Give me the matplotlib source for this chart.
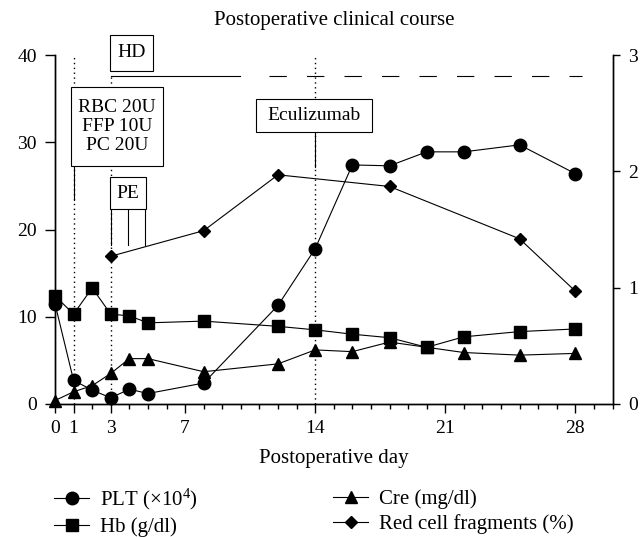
import matplotlib
matplotlib.use('Agg')
import matplotlib.pyplot as plt
from matplotlib.patches import Rectangle
from matplotlib.lines import Line2D
from matplotlib.ticker import MultipleLocator, FixedLocator

plt.rcParams['font.family'] = ['Liberation Serif', 'DejaVu Serif']
plt.rcParams['mathtext.fontset'] = 'custom'
plt.rcParams['mathtext.rm'] = 'Liberation Serif'
plt.rcParams['mathtext.it'] = 'Liberation Serif:italic'

# ---- data ----
days = [0, 1, 2, 3, 4, 5, 8, 12, 14, 16, 18, 20, 22, 25, 28]
plt_vals = [11.5, 2.7, 1.6, 0.7, 1.7, 1.2, 2.4, 11.3, 17.8, 27.4, 27.3, 28.9, 28.9, 29.7, 26.4]
hb_vals = [12.4, 10.3, 13.3, 10.3, 10.1, 9.3, 9.5, 8.9, 8.5, 8.0, 7.6, 6.5, 7.7, 8.3, 8.6]
cre_vals = [0.4, 1.4, 2.1, 3.5, 5.2, 5.2, 3.7, 4.6, 6.2, 6.0, 7.1, 6.5, 5.9, 5.6, 5.8]
rcf_days = [3, 8, 12, 18, 25, 28]
rcf_vals = [1.27, 1.49, 1.97, 1.87, 1.42, 0.97]

x_ticks = [0, 1, 3, 7, 14, 21, 28]
left_ticks = [0, 10, 20, 30, 40]
right_ticks = [0, 1, 2, 3]

labels = ['PLT (×10$^{4}$)', 'Hb (g/dl)', 'Cre (mg/dl)', 'Red cell fragments (%)']
title = 'Postoperative clinical course'
xlabel = 'Postoperative day'

FS = 14
lw = 0.8

fig = plt.figure(figsize=(6.4, 5.37), dpi=100)
W, H = 640, 537
x0, x1, ytop, ybot = 55, 612.5, 55, 404
ax = fig.add_axes([x0 / W, (H - ybot) / H, (x1 - x0) / W, (ybot - ytop) / H])
ax2 = ax.twinx()

ax.set_xlim(0, 30)
ax.set_ylim(0, 40)
ax2.set_ylim(0, 3)

# series
ax.plot(days, plt_vals, color='black', lw=lw, marker='o', ms=9, clip_on=False, zorder=5)
ax.plot(days, hb_vals, color='black', lw=lw, marker='s', ms=8.5, clip_on=False, zorder=5)
ax.plot(days, cre_vals, color='black', lw=lw, marker='^', ms=8, clip_on=False, zorder=5)
ax2.plot(rcf_days, rcf_vals, color='black', lw=lw, marker='D', ms=6.5, clip_on=False, zorder=5)

# spines & ticks
for a in (ax, ax2):
    a.spines['top'].set_visible(False)
    for s in ('left', 'right', 'bottom'):
        a.spines[s].set_linewidth(1.0)
ax.xaxis.set_major_locator(FixedLocator(x_ticks))
ax.xaxis.set_minor_locator(MultipleLocator(1))
ax.yaxis.set_major_locator(FixedLocator(left_ticks))
ax2.yaxis.set_major_locator(FixedLocator(right_ticks))
ax.tick_params(axis='x', which='major', direction='out', length=6.7, width=1, pad=5, labelsize=FS)
ax.tick_params(axis='x', which='minor', direction='out', length=3.8, width=1)
ax.tick_params(axis='y', which='major', direction='out', length=7.2, width=1, pad=6, labelsize=FS)
ax2.tick_params(axis='y', which='major', direction='out', length=5.2, width=1, pad=6, labelsize=FS)

ax.set_xlabel(xlabel, fontsize=15)
ax.xaxis.set_label_coords(0.5, (ybot - 459) / (ybot - ytop))
ax.xaxis.label.set_va('center')
ax.set_title(title, fontsize=15, y=(ybot - 20) / (ybot - ytop), va='center', pad=0)

# ---- annotations (left-axis data coordinates) ----
ann_kw = dict(color='black', lw=0.8, clip_on=False, zorder=3)
dot_kw = dict(color='black', lw=1.0, ls=(0, (1, 2.5)), clip_on=False, zorder=2)
ax.plot([1, 1], [0, 40], **dot_kw)
ax.plot([3, 3], [0, 37.6], **dot_kw)
ax.plot([14, 14], [0, 40], **dot_kw)

def box(xa, xb, ya, yb, text):
    ax.add_patch(Rectangle((xa, yb), xb - xa, ya - yb, fill=True, facecolor='white',
                           edgecolor='black', lw=0.8, clip_on=False, zorder=4))
    ax.text((xa + xb) / 2, (ya + yb) / 2, text, ha='center', va='center', fontsize=FS,
            linespacing=1.15, zorder=6, clip_on=False)

# HD
box(2.96, 5.28, 42.3, 38.17, 'HD')
ax.plot([3, 9.96], [37.6, 37.6], **ann_kw)
hd_dash = Line2D([11.54, 28.36], [37.6, 37.6], color='black', lw=0.8, clip_on=False)
hd_dash.set_dashes((12.5 / 0.8, 14.5 / 0.8))
ax.add_line(hd_dash)

# Transfusion box
box(0.86, 5.83, 36.37, 27.28, 'RBC 20U\nFFP 10U\nPC 20U')
ax.plot([1, 1], [27.28, 23.4], **ann_kw)

# PE
box(2.98, 4.88, 26.05, 22.3, 'PE')
for xs in (3.0, 3.93, 4.86):
    ax.plot([xs, xs], [22.3, 18.2], **ann_kw)

# Eculizumab
box(10.82, 17.05, 34.96, 31.2, 'Eculizumab')
ax.plot([14, 14], [31.2, 27.2], **ann_kw)

# ---- legend ----
mk = dict(color='black', lw=lw)
h1 = [Line2D([], [], marker='o', ms=9, **mk), Line2D([], [], marker='s', ms=8.5, **mk)]
h2 = [Line2D([], [], marker='^', ms=8, **mk), Line2D([], [], marker='D', ms=6.5, **mk)]
leg_kw = dict(loc='center left', frameon=False, fontsize=15, handlelength=1.7,
              handletextpad=0.5, labelspacing=0.25, borderpad=0, borderaxespad=0)
l1 = fig.legend(h1, labels[:2], bbox_to_anchor=(54 / W, (H - 512) / H), **leg_kw)
l2 = fig.legend(h2, labels[2:], bbox_to_anchor=(333 / W, (H - 512) / H), **leg_kw)

fig.savefig('out.png', dpi=100)
